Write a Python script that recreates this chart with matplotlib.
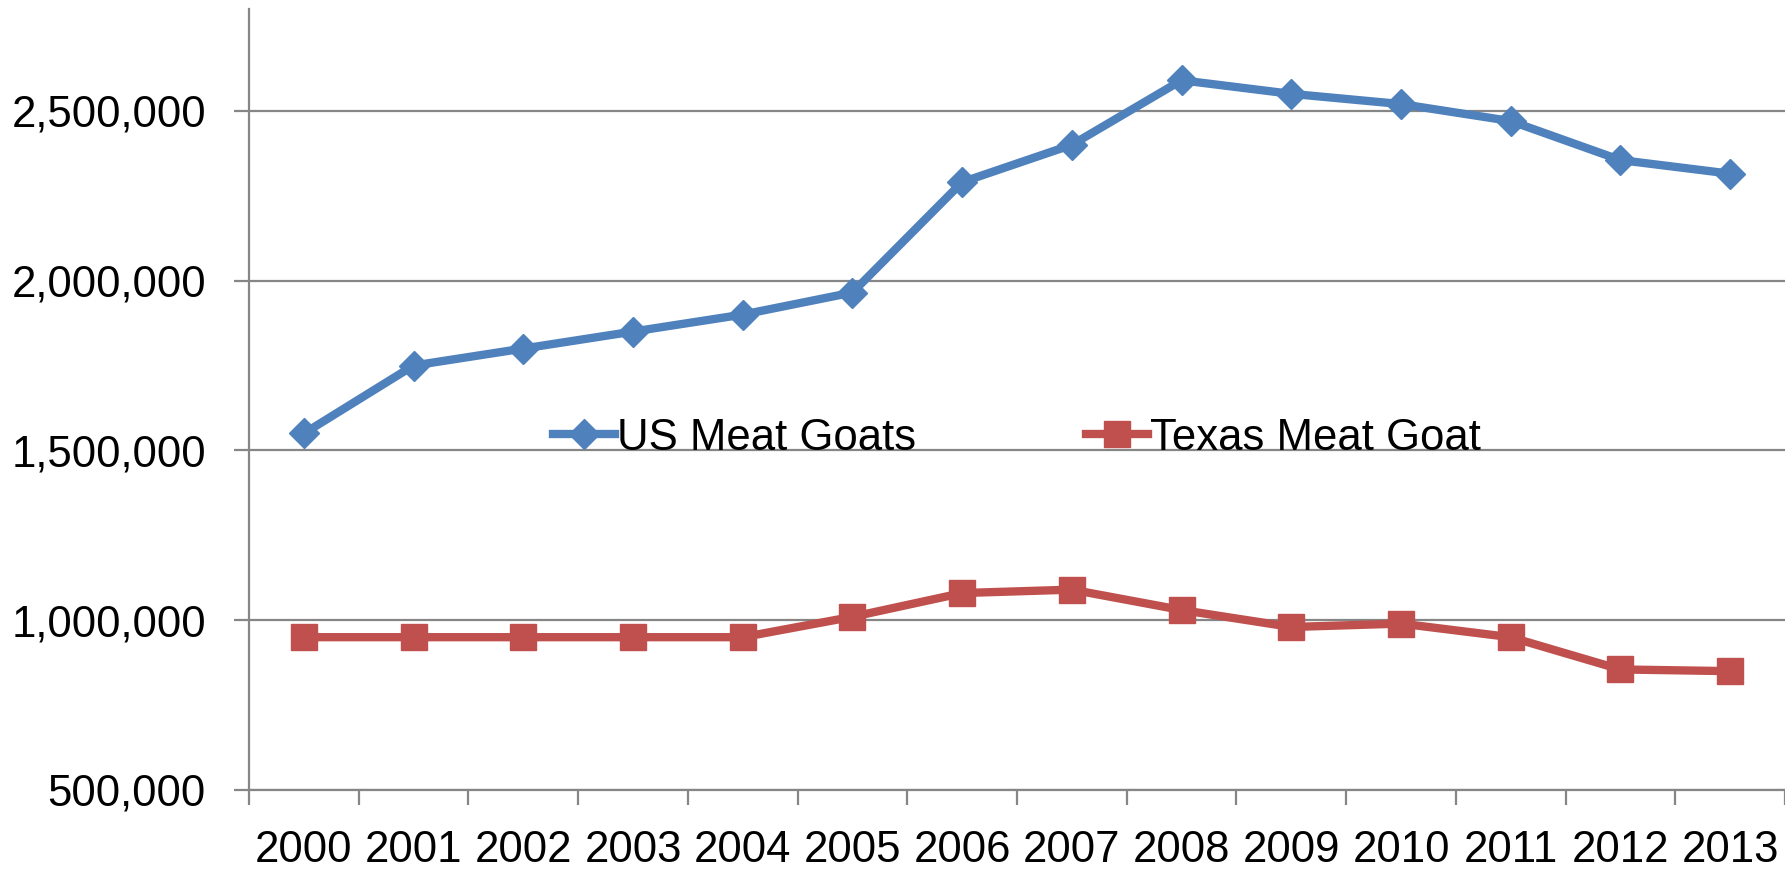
import matplotlib
matplotlib.use('Agg')
import matplotlib.pyplot as plt
from matplotlib.ticker import FuncFormatter, FixedLocator

years = ['2000', '2001', '2002', '2003', '2004', '2005', '2006',
         '2007', '2008', '2009', '2010', '2011', '2012', '2013']
us_goats = [1550000, 1750000, 1800000, 1850000, 1900000, 1965000, 2290000,
            2400000, 2590000, 2550000, 2520000, 2470000, 2355000, 2315000]
texas_goats = [950000, 950000, 950000, 950000, 950000, 1010000, 1080000,
               1090000, 1030000, 980000, 990000, 950000, 855000, 850000]

plt.rcParams['font.family'] = ['Liberation Sans', 'DejaVu Sans']
fs = 31.5

fig = plt.figure(figsize=(17.85, 8.71), dpi=100)
ax = fig.add_axes([0.1395, 0.093, 0.8605, 0.8967])

x = list(range(len(years)))
grey = '#868686'

ax.plot(x, us_goats, color='#4F81BD', lw=6, marker='D', ms=15,
        label='US Meat Goats', zorder=3)
ax.plot(x, texas_goats, color='#C0504D', lw=6, marker='s', ms=19,
        label='Texas Meat Goat', zorder=3)

ax.set_xlim(-0.5, len(years) - 0.5)
ax.set_ylim(500000, 2800000)
ax.set_yticks([500000, 1000000, 1500000, 2000000, 2500000])
ax.yaxis.set_major_formatter(FuncFormatter(lambda v, p: f'{int(v):,}'))
ax.grid(axis='y', color=grey, lw=1.6)

# category boundaries carry the ticks, labels sit in the middle
ax.xaxis.set_major_locator(FixedLocator([i - 0.5 for i in range(len(years) + 1)]))
ax.xaxis.set_minor_locator(FixedLocator(x))
ax.set_xticklabels([])
ax.set_xticklabels(years, minor=True)
ax.tick_params(axis='x', which='major', length=11, width=1.6, color=grey)
ax.tick_params(axis='x', which='minor', length=0, pad=29, labelsize=fs)
ax.tick_params(axis='y', length=11, width=1.6, color=grey, pad=20, labelsize=fs)

for s in ['top', 'right']:
    ax.spines[s].set_visible(False)
for s in ['left', 'bottom']:
    ax.spines[s].set_color(grey)
    ax.spines[s].set_linewidth(1.6)

ax.legend(loc='center', bbox_to_anchor=(0.5, 0.4505), ncol=2, frameon=False,
          fontsize=fs, handlelength=1.4, handletextpad=0.05,
          columnspacing=3.9, borderaxespad=0)

fig.savefig('out.png', dpi=100)
